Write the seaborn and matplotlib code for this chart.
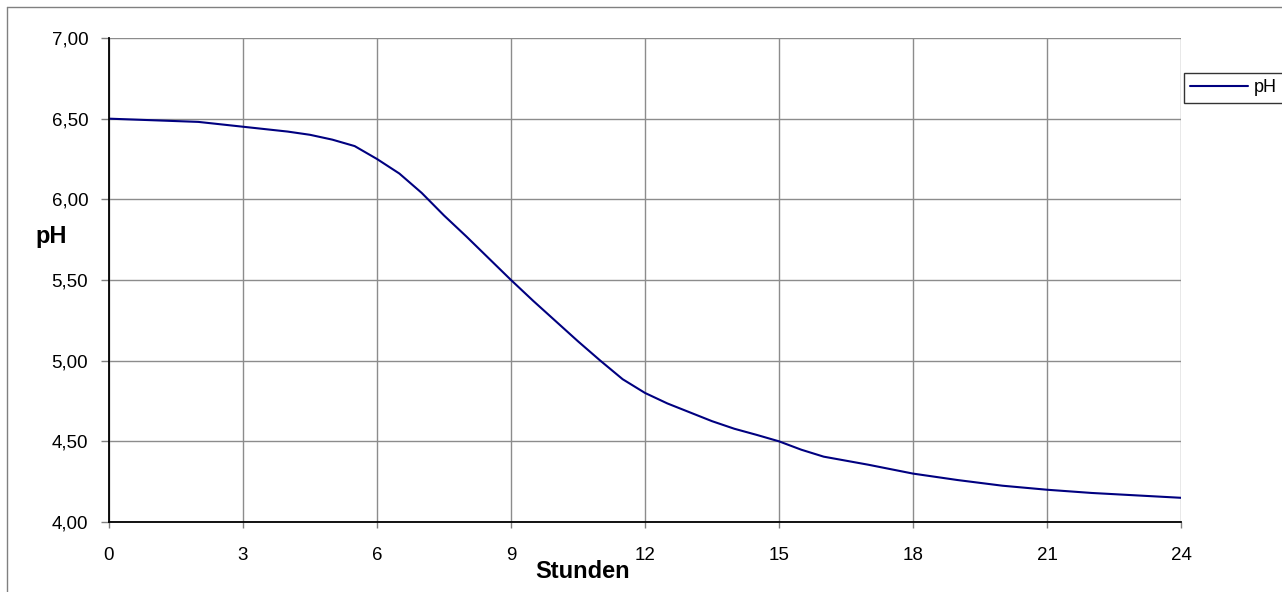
import pandas as pd
import matplotlib
matplotlib.use("Agg")
import matplotlib.pyplot as plt
import seaborn as sns
from matplotlib.lines import Line2D

# Data (hourly, half-hourly where the curve bends)
stunden = [0, 1, 2, 3, 4, 4.5, 5, 5.5, 6, 6.5, 7, 7.5, 8, 8.5, 9, 9.5,
           10, 10.5, 11, 11.5, 12, 12.5, 13, 13.5, 14, 14.5, 15, 15.5,
           16, 17, 18, 19, 20, 21, 22, 23, 24]
ph_werte = [6.50, 6.49, 6.48, 6.45, 6.42, 6.40, 6.37, 6.33, 6.25, 6.16,
            6.04, 5.90, 5.77, 5.635, 5.50, 5.37, 5.245, 5.12, 5.00, 4.885,
            4.80, 4.735, 4.68, 4.625, 4.578, 4.54, 4.50, 4.448, 4.405,
            4.355, 4.30, 4.26, 4.225, 4.20, 4.18, 4.165, 4.15]
x_ticks = [0, 3, 6, 9, 12, 15, 18, 21, 24]
y_ticks = [4.0, 4.5, 5.0, 5.5, 6.0, 6.5, 7.0]
y_tick_labels = ["4,00", "4,50", "5,00", "5,50", "6,00", "6,50", "7,00"]

df = pd.DataFrame({"Stunden": stunden, "pH": ph_werte})

sns.set_style("white")
plt.rcParams['font.family'] = ['Liberation Sans', 'DejaVu Sans']
plt.rcParams['text.color'] = 'black'
plt.rcParams['xtick.labelcolor'] = 'black'
plt.rcParams['ytick.labelcolor'] = 'black'

fig = plt.figure(figsize=(12.82, 5.92), dpi=100)
ax = fig.add_axes([109 / 1282, 1 - 522 / 592, (1181 - 109) / 1282, (522 - 38) / 592])

sns.lineplot(data=df, x="Stunden", y="pH", color="#000080", linewidth=1.5,
             ax=ax, legend=False)

ax.set_xlim(0, 24)
ax.set_ylim(4.0, 7.0)
ax.set_xticks(x_ticks)
ax.set_yticks(y_ticks)
ax.set_yticklabels(y_tick_labels)

ax.grid(True, color="#8c8c8c", linewidth=1)
ax.set_axisbelow(True)
for side in ["top", "right"]:
    ax.spines[side].set_visible(False)
for side in ["left", "bottom"]:
    ax.spines[side].set_color("black")
    ax.spines[side].set_linewidth(1.3)
    ax.spines[side].set_zorder(3)

ax.tick_params(axis="x", direction="out", length=4, width=1, color="#808080",
               labelsize=13.5, pad=14, labelcolor="black")
ax.tick_params(axis="y", direction="out", length=6, width=1, color="#808080",
               labelsize=13.5, pad=9, labelcolor="black")
ax.tick_params(left=True, bottom=True)

ax.set_xlabel("")
ax.set_ylabel("")
fig.text(583 / 1282, 1 - 572 / 592, "Stunden", fontsize=17, fontweight="bold",
         ha="center", va="center", color="black")
fig.text(51 / 1282, 1 - 237 / 592, "pH", fontsize=17, fontweight="bold",
         ha="center", va="center", color="black")

# legend box at the right
handle = Line2D([], [], color="#000080", linewidth=1.5)
leg = fig.legend([handle], ["pH"], loc="center left",
                 bbox_to_anchor=(1184 / 1282, 1 - 88 / 592),
                 fontsize=13, frameon=True, fancybox=False, handlelength=3.2,
                 handletextpad=0.3, borderpad=0.35, borderaxespad=0,
                 labelcolor="black")
leg.get_frame().set_edgecolor("black")
leg.get_frame().set_linewidth(1)

# outer chart border (left and top visible)
fig.add_artist(Line2D([7 / 1282, 7 / 1282], [0, 1 - 7 / 592],
                      transform=fig.transFigure, color="#808080", linewidth=1))
fig.add_artist(Line2D([7 / 1282, 1], [1 - 7 / 592, 1 - 7 / 592],
                      transform=fig.transFigure, color="#808080", linewidth=1))

fig.savefig("out.png", dpi=100)
